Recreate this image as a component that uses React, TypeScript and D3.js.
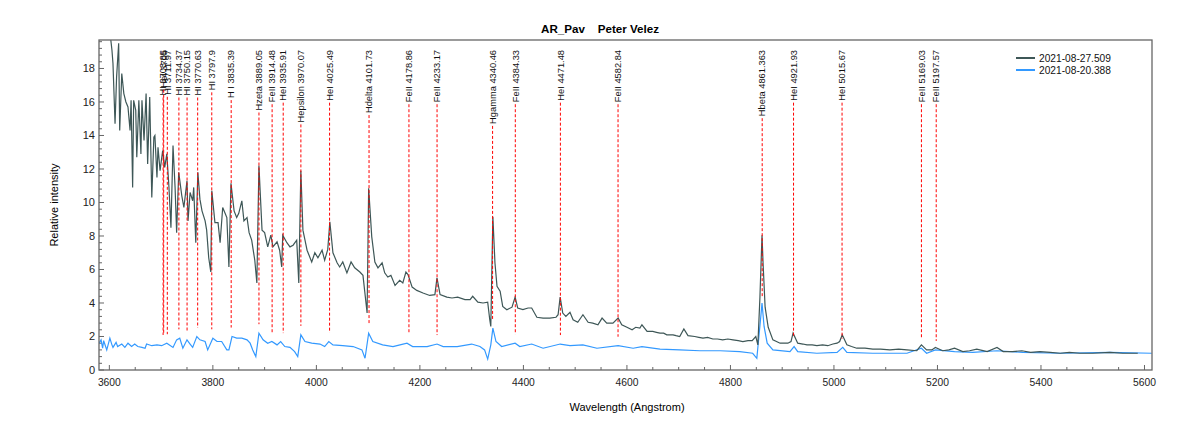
import React, { useEffect, useRef } from "react";
import * as d3 from "d3";

// ---- data ----
const darkLabel = "2021-08-27.509";
const blueLabel = "2021-08-20.388";

const darkWl = [3582,3590,3601,3605,3607,3611,3614,3618,3620,3624,3628,3632,3636,3640,3642,3645,3647,3651,3653,3657,3661,3663,3667,3671,3674,3678,3682,3686,3688,3692,3694,3698,3703,3707,3711,3715,3719,3723,3727,3730,3734,3740,3744,3750,3752,3756,3761,3763,3767,3771,3775,3779,3785,3788,3792,3796,3798,3804,3810,3814,3819,3823,3827,3831,3835,3841,3846,3850,3856,3860,3866,3870,3875,3881,3885,3889,3895,3900,3906,3912,3916,3924,3929,3933,3935,3943,3949,3955,3962,3966,3970,3974,3978,3982,3991,3997,4003,4011,4016,4022,4026,4032,4040,4045,4051,4059,4067,4074,4084,4090,4098,4101,4107,4113,4119,4127,4132,4138,4144,4152,4161,4167,4173,4177,4185,4194,4206,4219,4229,4233,4239,4252,4262,4273,4287,4297,4302,4312,4322,4331,4335,4337,4341,4345,4349,4355,4360,4368,4378,4384,4389,4399,4409,4416,4426,4438,4451,4463,4467,4471,4476,4482,4490,4496,4505,4515,4525,4534,4544,4552,4561,4573,4583,4590,4600,4610,4617,4625,4629,4639,4650,4657,4664,4671,4677,4689,4695,4702,4710,4718,4731,4739,4747,4756,4766,4775,4785,4795,4805,4815,4824,4834,4842,4849,4853,4857,4861,4863,4867,4873,4882,4896,4911,4917,4921,4930,4940,4948,4958,4967,4978,4988,4998,5006,5011,5016,5025,5034,5044,5060,5075,5090,5108,5125,5141,5160,5169,5179,5189,5196,5210,5222,5233,5249,5262,5276,5296,5315,5327,5345,5363,5380,5398,5418,5437,5455,5475,5500,5533,5558,5587];
const darkVal = [22,21,20.2,19.1,18.3,14.7,17.5,19.5,14.3,17.7,16.5,16.0,15.7,14.3,16.1,10.9,16.1,15.5,12.7,16.1,12.9,16.1,13.7,16.5,12.3,16.3,10.3,13.9,14.0,11.5,13.3,11.9,13.1,12.1,12.9,11.0,8.5,13.4,10.9,8.2,11.8,10.4,9.7,11.3,8.9,10.6,10.1,10.9,7.6,11.8,10.2,9.5,8.9,8.35,6.7,5.85,10.7,8.8,8.8,7.6,9.7,9.4,9.1,6.15,11.15,9.5,9.1,9.35,10.1,8.9,9.1,8.2,7.75,6.55,5.2,12.2,8.35,8.2,7.35,8.05,7.35,7.65,7.15,6.15,8.05,7.6,7.35,7.45,7.75,5.2,11.9,8.35,7.75,7.15,6.45,7.0,6.7,7.15,6.55,7.2,8.85,7.0,6.4,6.15,6.45,5.8,6.45,6.1,5.85,5.65,3.4,10.85,7.95,6.45,6.1,6.4,5.8,5.55,5.65,5.05,5.35,5.2,5.85,5.7,4.95,4.75,4.6,4.45,4.5,5.5,4.5,4.35,4.3,4.35,4.2,4.2,4.4,4.05,4.0,4.05,3.0,2.6,9.15,6.4,5.0,4.7,3.8,3.6,3.75,4.35,3.7,3.6,3.7,3.7,3.15,3.1,3.1,3.15,3.3,4.35,3.4,3.2,3.45,3.0,2.85,3.3,2.85,2.8,2.7,3.1,2.8,2.8,3.1,2.7,2.55,2.4,2.55,2.5,2.7,2.3,2.3,2.25,2.2,2.2,2.1,2.1,2.05,2.0,2.45,2.05,2.0,1.95,1.9,1.95,1.85,1.85,1.8,1.85,1.8,1.75,1.7,1.75,1.75,2.0,1.5,4.35,8.05,6.4,3.75,2.55,1.8,1.6,1.6,1.7,2.2,1.6,1.55,1.5,1.5,1.45,1.5,1.45,1.55,1.6,1.7,2.1,1.5,1.4,1.3,1.3,1.25,1.25,1.2,1.25,1.2,1.15,1.5,1.2,1.2,1.35,1.15,1.2,1.3,1.1,1.15,1.25,1.1,1.35,1.1,1.1,1.15,1.05,1.1,1.05,1.0,1.05,1.0,1.0,1.05,1.0,1.0];

const blueWl = [3580,3584,3587,3589,3595,3601,3605,3607,3613,3616,3624,3630,3636,3643,3649,3655,3663,3669,3672,3682,3692,3701,3711,3723,3730,3736,3742,3750,3756,3761,3769,3775,3785,3790,3800,3808,3817,3827,3831,3837,3846,3856,3866,3872,3877,3883,3889,3897,3906,3914,3924,3931,3939,3949,3958,3964,3970,3978,3991,4007,4016,4024,4032,4051,4071,4088,4094,4101,4109,4128,4148,4175,4186,4214,4233,4245,4272,4300,4316,4325,4331,4337,4341,4347,4358,4384,4393,4416,4438,4471,4490,4515,4542,4583,4612,4629,4664,4702,4741,4780,4818,4843,4851,4855,4859,4861,4865,4871,4882,4915,4923,4930,4967,5006,5017,5025,5075,5141,5169,5179,5196,5233,5268,5315,5365,5437,5533,5614];
const blueVal = [1.6,1.8,1.3,1.75,1.2,1.9,1.5,1.35,1.65,1.4,1.55,1.35,1.6,1.4,1.55,1.4,1.35,1.3,1.55,1.45,1.5,1.45,1.6,1.35,1.8,1.9,1.3,1.8,1.55,1.35,2.0,1.8,1.7,1.2,1.9,1.7,1.7,1.2,1.2,2.0,1.9,1.9,1.8,1.6,1.2,0.8,2.2,1.8,1.6,1.7,1.5,1.7,1.4,1.35,1.1,0.8,2.1,1.7,1.6,1.55,1.4,1.7,1.5,1.45,1.4,1.2,0.7,2.2,1.7,1.5,1.4,1.6,1.4,1.4,1.55,1.4,1.4,1.55,1.4,1.2,0.65,1.5,2.5,1.7,1.4,1.6,1.4,1.55,1.3,1.55,1.45,1.5,1.3,1.45,1.3,1.4,1.25,1.2,1.15,1.15,1.1,1.0,0.7,2.0,3.3,4.0,2.6,1.6,1.2,1.1,1.4,1.1,1.0,1.05,1.35,1.05,1.0,1.0,1.3,1.0,1.2,1.1,1.05,1.15,1.05,1.0,1.05,1.0];

const lineLabels = ["HI 3703.85","HeI 3705","HI 3711.97","HI 3734.37","HI 3750.15","HI 3770.63","HI 3797.9","H I 3835.39","Hzeta 3889.05","FeII 3914.48","HeI 3935.91","Hepsilon 3970.07","HeI 4025.49","Hdelta 4101.73","FeII 4178.86","FeII 4233.17","Hgamma 4340.46","FeII 4384.33","HeI 4471.48","FeII 4582.84","Hbeta 4861.363","HeI 4921.93","HeI 5015.67","FeII 5169.03","FeII 5197.57"];
const lineWl = [3703.85,3705.0,3711.97,3734.37,3750.15,3770.63,3797.9,3835.39,3889.05,3914.48,3935.91,3970.07,4025.49,4101.73,4178.86,4233.17,4340.46,4384.33,4471.48,4582.84,4861.363,4921.93,5015.67,5169.03,5197.57];

const xTicks = [3600,3800,4000,4200,4400,4600,4800,5000,5200,5400,5600];
const yTicks = [0,2,4,6,8,10,12,14,16,18];

const FONT = "'Liberation Sans', Arial, sans-serif";
const DARK = "#3E5757";
const BLUE = "#3399FF";

export default function App() {
  const ref = useRef<SVGSVGElement | null>(null);

  useEffect(() => {
    const svg = d3.select(ref.current);
    svg.selectAll("*").remove();
    const L = 99, R = 1152, T = 40, B = 370;
    const x = d3.scaleLinear().domain([3580, 5614.5]).range([L, R]);
    const y = d3.scaleLinear().domain([0, 19.7]).range([B, T]);

    svg.append("rect").attr("width", 1200).attr("height", 429).attr("fill", "#fff");

    svg.append("defs").append("clipPath").attr("id", "plotclip")
      .append("rect").attr("x", L).attr("y", T).attr("width", R - L).attr("height", B - T);

    // title
    svg.append("text").attr("x", 600).attr("y", 33).attr("text-anchor", "middle")
      .attr("font-family", FONT).attr("font-size", 11.6).attr("font-weight", "bold")
      .style("white-space", "pre").text("AR_Pav    Peter Velez");

    // axis labels
    svg.append("text").attr("x", 627).attr("y", 411).attr("text-anchor", "middle")
      .attr("font-family", FONT).attr("font-size", 11).text("Wavelength (Angstrom)");
    svg.append("text").attr("transform", "translate(58,205) rotate(-90)").attr("text-anchor", "middle")
      .attr("font-family", FONT).attr("font-size", 11).text("Relative intensity");

    // ticks
    const g = svg.append("g");
    const xMinor = d3.range(3600, 5601, 50);
    xMinor.forEach((v) => {
      const major = v % 200 === 0;
      g.append("line").attr("x1", x(v)).attr("x2", x(v)).attr("y1", B).attr("y2", B - (major ? 5 : 3))
        .attr("stroke", "#666").attr("stroke-width", 1);
    });
    xTicks.forEach((v) => {
      g.append("text").attr("x", x(v)).attr("y", 386).attr("text-anchor", "middle")
        .attr("font-family", FONT).attr("font-size", 10.3).attr("fill", "#222").text(String(v));
    });
    const yMinor = d3.range(0, 19.7, 0.4);
    yMinor.forEach((v) => {
      const major = Math.abs(v / 2 - Math.round(v / 2)) < 1e-6;
      g.append("line").attr("x1", L).attr("x2", L + (major ? 5 : 3)).attr("y1", y(v)).attr("y2", y(v))
        .attr("stroke", "#666").attr("stroke-width", 1);
    });
    yTicks.forEach((v) => {
      g.append("text").attr("x", 95).attr("y", y(v) + 4).attr("text-anchor", "end")
        .attr("font-family", FONT).attr("font-size", 11).attr("fill", "#222").text(String(v));
    });

    // spectra
    const darkData = darkWl.map((w, i) => [w, darkVal[i]] as [number, number]);
    const blueData = blueWl.map((w, i) => [w, blueVal[i]] as [number, number]);
    const line = d3.line<[number, number]>().x((d) => x(d[0])).y((d) => y(d[1]));
    const plot = svg.append("g").attr("clip-path", "url(#plotclip)");
    plot.append("path").datum(blueData).attr("d", line).attr("fill", "none")
      .attr("stroke", BLUE).attr("stroke-width", 1.2);
    plot.append("path").datum(darkData).attr("d", line).attr("fill", "none")
      .attr("stroke", DARK).attr("stroke-width", 1.2);

    // marker lines (drawn on top of spectra)
    const blueAt = (w: number) => {
      let m = 0;
      for (let k = w - 4; k <= w + 4; k += 1) {
        const i = d3.bisector((d: [number, number]) => d[0]).left(blueData, k);
        const a = blueData[Math.max(0, i - 1)], b = blueData[Math.min(blueData.length - 1, i)];
        const t = b[0] === a[0] ? 0 : (k - a[0]) / (b[0] - a[0]);
        m = Math.max(m, a[1] + (b[1] - a[1]) * Math.max(0, Math.min(1, t)));
      }
      return m;
    };

    const markers = svg.append("g");
    lineWl.forEach((w, i) => {
      const t = markers.append("text")
        .attr("transform", `translate(${x(w)},50) rotate(-90)`)
        .attr("text-anchor", "end").attr("dy", "0.35em")
        .attr("font-family", FONT).attr("font-size", 9.3).attr("fill", "#111")
        .text(lineLabels[i]);
      const len = (t.node() as SVGTextElement).getComputedTextLength();
      const yEnd = y(blueAt(w)) - 9;
      markers.append("line").attr("x1", x(w)).attr("x2", x(w)).attr("y1", 50 + len + 2).attr("y2", yEnd)
        .attr("stroke", "#FF0000").attr("stroke-width", 1).attr("stroke-dasharray", "3,2");
    });

    // frame
    svg.append("rect").attr("x", L).attr("y", T).attr("width", R - L).attr("height", B - T)
      .attr("fill", "none").attr("stroke", "#666").attr("stroke-width", 1.3);

    // legend
    const leg = svg.append("g");
    [[darkLabel, DARK, 58], [blueLabel, BLUE, 70]].forEach(([lab, col, yy]) => {
      leg.append("line").attr("x1", 1016).attr("x2", 1035).attr("y1", yy as number).attr("y2", yy as number)
        .attr("stroke", col as string).attr("stroke-width", 2);
      leg.append("text").attr("x", 1039).attr("y", (yy as number) + 3.5)
        .attr("font-family", FONT).attr("font-size", 10.2).attr("fill", "#111").text(lab as string);
    });
  }, []);

  return (
    <svg ref={ref} width={1200} height={429}
      style={{ position: "absolute", left: 0, top: 0, display: "block" }} />
  );
}
